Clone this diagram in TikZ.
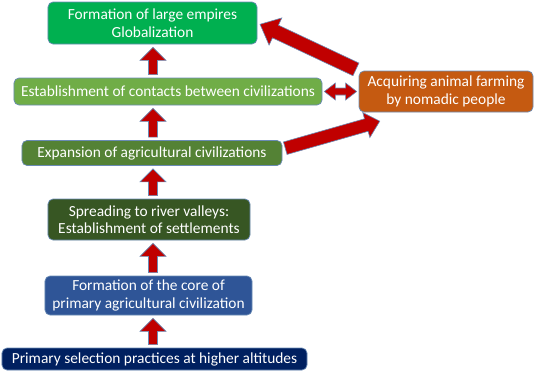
\documentclass[tikz,border=0pt]{standalone}
\usepackage{fontspec}
\setmainfont{Carlito}
\usepackage{tikz}
\usetikzlibrary{positioning, calc}

\definecolor{empirecol}{HTML}{00B050}
\definecolor{contactcol}{HTML}{70AD47}
\definecolor{expandcol}{HTML}{548235}
\definecolor{rivercol}{HTML}{375623}
\definecolor{corecol}{HTML}{2F5597}
\definecolor{selectcol}{HTML}{002060}
\definecolor{nomadcol}{HTML}{C55A11}
\definecolor{arrowred}{HTML}{C00000}
\definecolor{edgeblue}{HTML}{6A8BB5}

% block arrow: from, to, half shaft, half head, head length
\newcommand{\blockarrow}[5]{%
  \coordinate (ba-s) at ($(#1)!3bp!(#2)$);
  \coordinate (ba-t) at ($(#2)!3bp!(#1)$);
  \coordinate (ba-h) at ($(ba-t)!#5!(ba-s)$);
  \filldraw[bigarrow] ($(ba-s)!#3!90:(ba-t)$) -- ($(ba-h)!#3!-90:(ba-s)$)
    -- ($(ba-h)!#4!-90:(ba-s)$) -- (ba-t) -- ($(ba-h)!#4!90:(ba-s)$)
    -- ($(ba-h)!#3!90:(ba-s)$) -- ($(ba-s)!#3!-90:(ba-t)$) -- cycle;
}
% block arrow with two heads
\newcommand{\dblockarrow}[5]{%
  \coordinate (ba-s) at ($(#1)!2bp!(#2)$);
  \coordinate (ba-t) at ($(#2)!2bp!(#1)$);
  \coordinate (ba-hs) at ($(ba-s)!#5!(ba-t)$);
  \coordinate (ba-ht) at ($(ba-t)!#5!(ba-s)$);
  \filldraw[bigarrow] (ba-s) -- ($(ba-hs)!#4!90:(ba-t)$) -- ($(ba-hs)!#3!90:(ba-t)$)
    -- ($(ba-ht)!#3!-90:(ba-s)$) -- ($(ba-ht)!#4!-90:(ba-s)$) -- (ba-t)
    -- ($(ba-ht)!#4!90:(ba-s)$) -- ($(ba-ht)!#3!90:(ba-s)$)
    -- ($(ba-hs)!#3!-90:(ba-t)$) -- ($(ba-hs)!#4!-90:(ba-t)$) -- cycle;
}

\begin{document}
\begin{tikzpicture}[
    x=1bp, y=-1bp,
    stagebox/.style={draw=edgeblue, line width=0.7bp, rounded corners=5bp,
        text=white, align=center, inner sep=0pt,
        font=\fontsize{15.4bp}{17.5bp}\selectfont},
    bigarrow/.style={fill=arrowred, draw=edgeblue, line width=0.6bp, line join=miter}
]
    \useasboundingbox (0,0) rectangle (535,371);

    % stages
    \node[stagebox, fill=empirecol, minimum width=209bp, minimum height=42bp] (empires) at (152.5,23)
        {Formation of large empires\\Globalization};
    \node[stagebox, fill=contactcol, minimum width=308bp, minimum height=27bp] (contacts) at (168,91.5)
        {Establishment of contacts between civilizations};
    \node[stagebox, fill=nomadcol, minimum width=174bp, minimum height=41bp] (nomadic) at (446,91.5)
        {Acquiring animal farming\\by nomadic people};
    \node[stagebox, fill=expandcol, minimum width=260bp, minimum height=25bp] (expansion) at (152,153)
        {Expansion of agricultural civilizations};
    \node[stagebox, fill=rivercol, minimum width=202bp, minimum height=41bp] (spreading) at (149,219.5)
        {Spreading to river valleys:\\Establishment of settlements};
    \node[stagebox, fill=corecol, minimum width=207bp, minimum height=39bp] (core) at (148.5,295.5)
        {Formation of the core of\\primary agricultural civilization};
    \node[stagebox, fill=selectcol, minimum width=305bp, minimum height=22bp] (primary) at (154.5,359)
        {Primary selection practices at higher altitudes};

    % upward arrows
    \coordinate (spine) at (153,0);
    \blockarrow{primary.north -| spine}{core.south -| spine}{4.5bp}{13bp}{13bp}
    \blockarrow{core.north -| spine}{spreading.south -| spine}{4.5bp}{13bp}{13bp}
    \blockarrow{spreading.north -| spine}{expansion.south -| spine}{4.5bp}{13bp}{13bp}
    \blockarrow{expansion.north -| spine}{contacts.south -| spine}{4.5bp}{13bp}{13bp}
    \blockarrow{contacts.north -| spine}{empires.south -| spine}{4.5bp}{13bp}{13bp}

    % links with the nomads
    \coordinate (etail) at ($(expansion.east)+(0,-4)$);
    \coordinate (ntip) at ($(nomadic.south west)+(24,8)$);
    \blockarrow{etail}{ntip}{6.5bp}{13bp}{14bp}
    \blockarrow{nomadic.north west}{empires.east}{7bp}{15bp}{17bp}
    \dblockarrow{contacts.east}{nomadic.west}{3.5bp}{8.5bp}{11bp}
\end{tikzpicture}
\end{document}
